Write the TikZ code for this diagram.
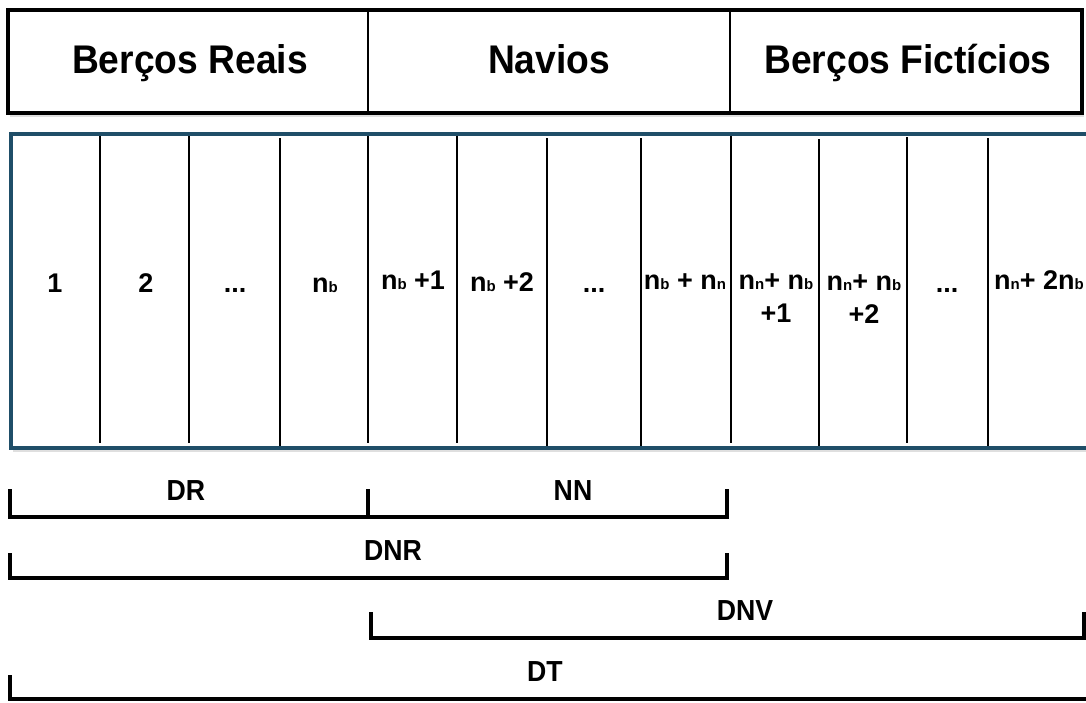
\documentclass[tikz,border=0pt]{standalone}
\usepackage{fontspec}
\setmainfont{Liberation Sans}
\usetikzlibrary{shadows}
\definecolor{boxblue}{HTML}{1F4E68}
\newcommand{\sbs}[1]{{\fontsize{15}{15}\selectfont #1}}
\begin{document}
\begin{tikzpicture}[x=1pt,y=-1pt,
  hdr/.style={font=\bfseries\fontsize{40}{44}\selectfont, anchor=base, inner sep=0pt},
  cell/.style={font=\bfseries\fontsize{27}{33}\selectfont, align=center, anchor=base, inner sep=0pt},
  brlab/.style={font=\bfseries\fontsize{29}{32}\selectfont, anchor=base, inner sep=0pt},
  divider/.style={line width=2.4pt},
  bracket/.style={line width=3.6pt, line join=miter},
  softshadow/.style={drop shadow={opacity=0.25, shadow xshift=2pt, shadow yshift=-4pt}}]
\useasboundingbox (0,0) rectangle (1086,702);
\fill[white] (0,0) rectangle (1086,702);

% header box
\draw[line width=4pt, fill=white, softshadow] (8,10) rectangle (1082,113);
\draw[line width=1.6pt] (368,10) -- (368,113);
\draw[line width=1.6pt] (730,10) -- (730,113);
\node[hdr] (hBR) at (190,73) {\scalebox{0.93}[1]{Berços Reais}};
\node[hdr] (hNV) at (549,73) {\scalebox{0.93}[1]{Navios}};
\node[hdr] (hBF) at (908,73) {\scalebox{0.93}[1]{Berços Fictícios}};

% cells box
\draw[line width=3.6pt, draw=boxblue, fill=white, softshadow] (11,134) rectangle (1094,448);
\foreach \x/\a/\b in {100/136/443,189/136/443,280/138/446,368/136/443,457/136/443,547/138/446,641/138/446,731/136/443,819/139/446,907/137/443,988/138/446}
  \draw[divider] (\x,\a) -- (\x,\b);

\node[cell] (c1)  at (55,292)  {1};
\node[cell] (c2)  at (146,292) {2};
\node[cell] (c3)  at (235,292) {...};
\node[cell] (c4)  at (325,292) {n\sbs{b}};
\node[cell] (c5)  at (413,289) {n\sbs{b} +1};
\node[cell] (c6)  at (502,291) {n\sbs{b} +2};
\node[cell] (c7)  at (594,292) {...};
\node[cell] (c8)  at (685,289) {n\sbs{b} + n\sbs{n}};
\node[cell] (c9)  at (776,322) {n\sbs{n}+ n\sbs{b}\\+1};
\node[cell] (c10) at (864,323) {n\sbs{n}+ n\sbs{b}\\+2};
\node[cell] (c11) at (947,292) {...};
\node[cell] (c12) at (1039,289) {n\sbs{n}+ 2n\sbs{b}};

% brackets
\coordinate (a0) at (10,489);  \coordinate (a1) at (10,517);
\coordinate (am0) at (368,489); \coordinate (am1) at (368,517);
\coordinate (ar0) at (727,489); \coordinate (ar1) at (727,517);
\draw[bracket] (a0) -- (a1) -- (ar1) -- (ar0);
\draw[bracket] (am0) -- (am1);
\node[brlab] (DR) at (186,500) {\scalebox{0.92}[1]{DR}};
\node[brlab] (NN) at (573,500) {\scalebox{0.92}[1]{NN}};

\coordinate (b0) at (10,553);  \coordinate (b1) at (10,578);
\coordinate (br0) at (727,553); \coordinate (br1) at (727,578);
\draw[bracket] (b0) -- (b1) -- (br1) -- (br0);
\node[brlab] (DNR) at (393,560) {\scalebox{0.92}[1]{DNR}};

\coordinate (c0) at (371,612);  \coordinate (cc1) at (371,638);
\coordinate (cr0) at (1084,612); \coordinate (cr1) at (1084,638);
\draw[bracket] (c0) -- (cc1) -- (cr1) -- (cr0);
\node[brlab] (DNV) at (745,620) {\scalebox{0.92}[1]{DNV}};

\coordinate (d0) at (10,675);  \coordinate (d1) at (10,699);
\coordinate (dr1) at (1090,699);
\draw[bracket] (d0) -- (d1) -- (dr1);
\node[brlab] (DT) at (545,681) {\scalebox{0.92}[1]{DT}};
\end{tikzpicture}
\end{document}
